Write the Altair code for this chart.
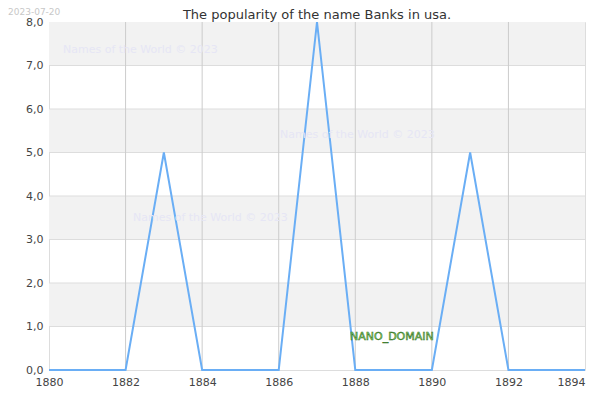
import altair as alt
import pandas as pd

years = list(range(1880, 1895))
counts = [0, 0, 0, 5, 0, 0, 0, 8, 0, 0, 0, 5, 0, 0, 0]
band_lo = [1, 3, 5, 7]
band_hi = [2, 4, 6, 8]
x_ticks = [1880, 1882, 1884, 1886, 1888, 1890, 1892, 1894]
y_ticks = [0, 1, 2, 3, 4, 5, 6, 7, 8]
title_text = "The popularity of the name Banks in usa."
date_text = "2023-07-20"
watermark = "Names of the World © 2023"

df = pd.DataFrame({"year": years, "count": counts})
bands = pd.DataFrame({"lo": band_lo, "hi": band_hi})
vgrid = pd.DataFrame({"year": x_ticks[1:-1]})
hgrid = pd.DataFrame({"v": y_ticks[1:-1]})

W, H = 536, 348
xs = alt.Scale(domain=[1880, 1894], nice=False, zero=False)
ys = alt.Scale(domain=[0, 8], nice=False)

xaxis = alt.Axis(values=x_ticks, format="d", title=None, grid=False, ticks=False, domain=False,
                 labelFlush=False, labelOverlap=False,
                 labelAlign={"condition": {"test": "datum.value === 1894", "value": "right"},
                             "value": "center"},
                 labelFontSize=11, labelColor="#444", labelPadding=6, labelFont="DejaVu Sans")
yaxis = alt.Axis(values=y_ticks, title=None, grid=False, ticks=False, domain=False,
                 labelFlush=False, labelOverlap=False,
                 labelExpr="replace(format(datum.value, '.1f'), '.', ',')",
                 labelFontSize=11, labelColor="#444", labelPadding=6, labelFont="DejaVu Sans")

band_layer = alt.Chart(bands).mark_rect(color="#f2f2f2").encode(
    y=alt.Y("lo:Q", scale=ys, axis=yaxis), y2="hi:Q",
    x=alt.value(0), x2=alt.value(W))

hgrid_layer = alt.Chart(hgrid).mark_rule(color="#dddddd", strokeWidth=1).encode(
    y=alt.Y("v:Q", scale=ys), x=alt.value(0), x2=alt.value(W))

vgrid_layer = alt.Chart(vgrid).mark_rule(color="#cccccc", strokeWidth=1).encode(
    x=alt.X("year:Q", scale=xs, axis=xaxis), y=alt.value(0), y2=alt.value(H))

line_layer = alt.Chart(df).mark_line(color="#6aaef5", strokeWidth=2).encode(
    x=alt.X("year:Q", scale=xs, axis=xaxis),
    y=alt.Y("count:Q", scale=ys, axis=yaxis))

def wm(x, y):
    return alt.Chart(pd.DataFrame({"t": [watermark]})).mark_text(
        align="left", baseline="middle", fontSize=11, color="#e6e6f5", font="DejaVu Sans"
    ).encode(text="t:N", x=alt.value(x), y=alt.value(y))

nano = alt.Chart(pd.DataFrame({"t": ["NANO_DOMAIN"]})).mark_text(
    align="left", baseline="middle", fontSize=11, color="#99e070", stroke="#2a6a1a",
    strokeWidth=0.5, font="DejaVu Sans"
).encode(text="t:N", x=alt.value(301), y=alt.value(315))

title = alt.Chart(pd.DataFrame({"t": [title_text]})).mark_text(
    align="center", baseline="alphabetic", fontSize=13, color="#333", font="DejaVu Sans"
).encode(text="t:N", x=alt.value(W / 2), y=alt.value(-3))

date = alt.Chart(pd.DataFrame({"t": [date_text]})).mark_text(
    align="left", baseline="top", fontSize=9, color="#c8c8c8", font="DejaVu Sans"
).encode(text="t:N", x=alt.value(-41), y=alt.value(-14))

chart = alt.layer(
    band_layer, hgrid_layer, vgrid_layer, line_layer,
    wm(14, 28), wm(231, 113), wm(84, 196), nano, title, date
).properties(
    width=W, height=H,
    autosize=alt.AutoSizeParams(type="none"),
    padding={"left": 41, "top": 14, "right": 7, "bottom": 22},
).configure_view(stroke="black", strokeWidth=1.2).configure(background="white")

chart.save("out.html", embed_options={"renderer": "svg", "actions": False})
